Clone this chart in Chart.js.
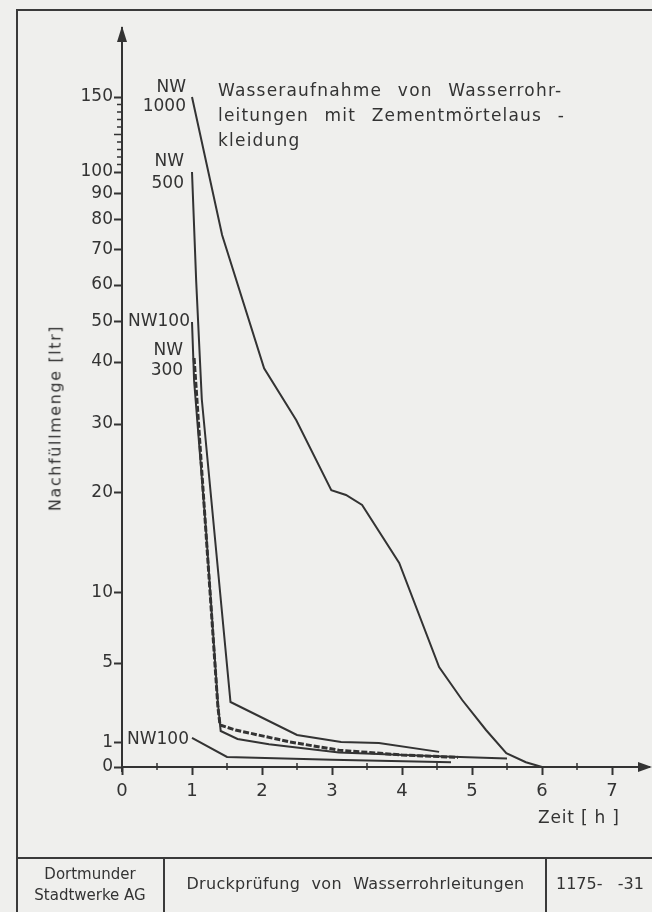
<!DOCTYPE html>
<html lang="de">
<head>
<meta charset="utf-8">
<title>Wasseraufnahme von Wasserrohrleitungen</title>
<script src="https://cdn.jsdelivr.net/npm/chart.js@4.4.1/dist/chart.umd.min.js"></script>
<style>
  html, body { margin: 0; padding: 0; }
  body {
    width: 652px; height: 912px; position: relative; overflow: hidden;
    background: #efefed; color: #333;
    font-family: 'DejaVu Sans', sans-serif;
  }
  #blatt {
    position: absolute; left: 16px; top: 9px; width: 650px; height: 920px;
    border-left: 2px solid #3a3a3a; border-top: 2px solid #3a3a3a;
  }
  #diagramm { position: absolute; left: 0; top: 0; }
  .txt { position: absolute; white-space: pre; }
  #titel { left: 218px; top: 78px; font-size: 17px; line-height: 25px; letter-spacing: 1.2px; word-spacing: 9px; }
  #ytitel { left: 55px; top: 418px; font-size: 16px; letter-spacing: 1.6px;
            transform: translate(-50%, -50%) rotate(-90deg); }
  #xtitel { left: 538px; top: 807px; font-size: 17px; letter-spacing: 0.8px; }
  #tabelle { position: absolute; left: 17px; top: 857px; width: 640px; height: 60px; border-top: 2px solid #3a3a3a; }
  .zelle { position: absolute; top: 0; height: 60px; border-left: 2px solid #3a3a3a; }
  .zelle span { position: absolute; white-space: pre; font-size: 15px; }
</style>
</head>
<body>
<div id="blatt"></div>
<canvas id="diagramm" width="652" height="912"></canvas>

<div class="txt" id="titel">Wasseraufnahme von Wasserrohr-
leitungen mit Zementmörtelaus -
kleidung</div>
<div class="txt" id="ytitel">Nachfüllmenge [ltr]</div>
<div class="txt" id="xtitel">Zeit [ h ]</div>

<div id="tabelle">
  <div class="zelle" style="left:0;width:146px;border-left:none;">
    <span style="left:0;width:146px;top:5px;text-align:center;line-height:21px;">Dortmunder
Stadtwerke AG</span>
  </div>
  <div class="zelle" style="left:146px;width:381px;">
    <span style="left:0;width:381px;top:15px;text-align:center;word-spacing:6px;font-size:16px;letter-spacing:0.3px;">Druckprüfung von Wasserrohrleitungen</span>
  </div>
  <div class="zelle" style="left:528px;width:112px;">
    <span style="left:9px;top:15px;font-size:16px;">1175-   -31</span>
  </div>
</div>

<script>
// Zeit [h] und Nachfüllmenge [ltr]
const zeitNW1000 = [1.0, 1.43, 2.03, 2.49, 2.99, 3.2, 3.43, 3.96, 4.53, 4.86, 5.2, 5.49, 5.77, 6.0];
const mengeNW1000 = [150, 75, 39, 30.6, 20.4, 19.8, 18.8, 13, 4.8, 3.15, 1.65, 0.58, 0.2, 0];

const zeitNW500 = [1.0, 1.06, 1.14, 1.34, 1.55, 2.5, 3.13, 3.67, 4.53];
const mengeNW500 = [100, 61, 34, 14.6, 3.05, 1.4, 1.05, 1.0, 0.63];

const zeitNW100 = [1.0, 1.03, 1.2, 1.37, 1.41, 1.65, 2.1, 3.1, 4.5, 5.5];
const mengeNW100 = [50, 37, 16.3, 3.0, 1.6, 1.2, 0.95, 0.6, 0.45, 0.35];

const zeitNW300 = [1.03, 1.2, 1.37, 1.4, 1.62, 2.4, 3.1, 4.0, 4.8];
const mengeNW300 = [41, 16, 2.8, 1.9, 1.65, 1.05, 0.7, 0.5, 0.4];

const zeitNW100b = [1.0, 1.5, 3.0, 4.7];
const mengeNW100b = [1.25, 0.42, 0.3, 0.2];

// Achsenbeschriftung
const zeitTicks = [0, 1, 2, 3, 4, 5, 6, 7];
const mengeTicks = [0, 1, 5, 10, 20, 30, 40, 50, 60, 70, 80, 90, 100, 150];
const mengeNebenTicks = [105, 110, 115, 120, 125, 130, 135, 140, 145];

// Teilung der (gezeichneten, nicht linearen) Mengenachse: Wert -> Anteil der Achsenhoehe
const teilWert = [0, 1, 5, 10, 20, 30, 40, 50, 60, 70, 80, 90, 100, 150, 196];
const teilAnteil = [0, 0.0325, 0.1407, 0.2355, 0.3708, 0.4641, 0.548, 0.6022, 0.6522, 0.6996, 0.7402, 0.7754, 0.8051, 0.9066, 1];

function verzerren(v) {
    if (v <= teilWert[0]) return 0;
    for (let i = 0; i < teilWert.length - 1; i++) {
        if (v <= teilWert[i + 1]) {
            const f = (v - teilWert[i]) / (teilWert[i + 1] - teilWert[i]);
            return teilAnteil[i] + f * (teilAnteil[i + 1] - teilAnteil[i]);
        }
    }
    return 1;
}
function entzerren(a) {
    for (let i = 0; i < teilAnteil.length - 1; i++) {
        if (a <= teilAnteil[i + 1]) {
            const f = (a - teilAnteil[i]) / (teilAnteil[i + 1] - teilAnteil[i]);
            return teilWert[i] + f * (teilWert[i + 1] - teilWert[i]);
        }
    }
    return teilWert[teilWert.length - 1];
}

// eigene Skala mit der Teilung von oben
class TeilungSkala extends Chart.LinearScale {
    determineDataLimits() {
        this.min = teilWert[0];
        this.max = teilWert[teilWert.length - 1];
    }
    buildTicks() {
        return mengeTicks.map(v => ({ value: v }));
    }
    getPixelForValue(v) {
        return this.getPixelForDecimal(verzerren(v));
    }
    getValueForPixel(p) {
        return entzerren(this.getDecimalForPixel(p));
    }
}
TeilungSkala.id = 'teilung';
TeilungSkala.defaults = { ticks: { callback: v => String(v) } };
Chart.register(TeilungSkala);

const punkte = (xs, ys) => xs.map((x, i) => ({ x: x, y: ys[i] }));

const FARBE = '#333333';
const SCHRIFT = "'DejaVu Sans', sans-serif";

// Pfeile, Zwischenstriche und Kurvenbeschriftungen
const zusatz = {
    id: 'zusatz',
    afterDraw(chart) {
        const { ctx, scales: { x, y }, chartArea: ca } = chart;
        const x0 = x.getPixelForValue(0);
        const y0 = y.getPixelForValue(0);
        ctx.save();
        ctx.strokeStyle = FARBE;
        ctx.fillStyle = FARBE;
        ctx.lineWidth = 2;

        // Achsen verlaengern + Pfeilspitzen
        ctx.beginPath();
        ctx.moveTo(x0, y0); ctx.lineTo(x0, y0 + 5);
        ctx.moveTo(ca.right, y0); ctx.lineTo(650, y0);
        ctx.stroke();
        ctx.beginPath();
        ctx.moveTo(x0, ca.top - 2); ctx.lineTo(x0 - 5, ca.top + 14); ctx.lineTo(x0 + 5, ca.top + 14); ctx.closePath();
        ctx.fill();
        ctx.beginPath();
        ctx.moveTo(652, y0); ctx.lineTo(638, y0 - 5); ctx.lineTo(638, y0 + 5); ctx.closePath();
        ctx.fill();

        // halbe Stunden
        ctx.lineWidth = 1.5;
        ctx.beginPath();
        for (let t = 0.5; t < 7; t += 1) {
            const px = x.getPixelForValue(t);
            ctx.moveTo(px, y0 - 4); ctx.lineTo(px, y0 + 3);
        }
        // Nebenstriche 100..150
        mengeNebenTicks.forEach(v => {
            const py = y.getPixelForValue(v);
            ctx.moveTo(x0 - (v === 125 ? 8 : 5), py); ctx.lineTo(x0, py);
        });
        ctx.stroke();

        // Kurvenbeschriftung, rechtsbuendig links vom Kurvenanfang
        ctx.font = '17px ' + SCHRIFT;
        ctx.textAlign = 'right';
        ctx.textBaseline = 'middle';
        const schild = (zeilen, t, v, dx, dys) => {
            const px = x.getPixelForValue(t) + dx;
            const py = y.getPixelForValue(v);
            zeilen.forEach((z, i) => ctx.fillText(z, px, py + dys[i]));
        };
        schild(['NW', '1000'], zeitNW1000[0], mengeNW1000[0], -6, [-9, 10]);
        schild(['NW', '500'], zeitNW500[0], mengeNW500[0], -8, [-10, 12]);
        schild(['NW100'], zeitNW100[0], mengeNW100[0], -2, [0]);
        schild(['NW', '300'], zeitNW300[0], mengeNW300[0], -11, [-7, 13]);
        schild(['NW100'], zeitNW100b[0], mengeNW100b[0], -3, [2]);
        ctx.restore();
    }
};

const achse = {
    grid: { drawOnChartArea: false, drawTicks: true, tickLength: 8, tickColor: FARBE, tickWidth: 2 },
    border: { display: true, color: FARBE, width: 2 }
};

new Chart(document.getElementById('diagramm').getContext('2d'), {
    type: 'line',
    data: {
        datasets: [
            { label: 'NW 1000', data: punkte(zeitNW1000, mengeNW1000) },
            { label: 'NW 500', data: punkte(zeitNW500, mengeNW500) },
            { label: 'NW 100', data: punkte(zeitNW100, mengeNW100) },
            { label: 'NW 300', data: punkte(zeitNW300, mengeNW300), borderDash: [6, 2], borderWidth: 3 },
            { label: 'NW 100 (2)', data: punkte(zeitNW100b, mengeNW100b) }
        ]
    },
    options: {
        responsive: false,
        animation: false,
        devicePixelRatio: 1,
        layout: { padding: { left: 62, right: 5, top: 28, bottom: 105 } },
        elements: {
            point: { radius: 0 },
            line: { tension: 0, borderWidth: 2, borderColor: FARBE, fill: false }
        },
        plugins: { legend: { display: false }, tooltip: { enabled: false } },
        scales: {
            x: {
                type: 'linear', min: 0, max: 7.5,
                afterBuildTicks: s => { s.ticks = zeitTicks.map(v => ({ value: v })); },
                afterFit: s => { s.height = 40; },
                ...achse,
                ticks: { color: FARBE, font: { family: SCHRIFT, size: 18 }, padding: 6, maxRotation: 0, autoSkip: false }
            },
            y: {
                type: 'teilung',
                afterFit: s => { s.width = 60; },
                ...achse,
                ticks: { color: FARBE, font: { family: SCHRIFT, size: 17 }, padding: 1, autoSkip: false }
            }
        }
    },
    plugins: [zusatz]
});
</script>
</body>
</html>
